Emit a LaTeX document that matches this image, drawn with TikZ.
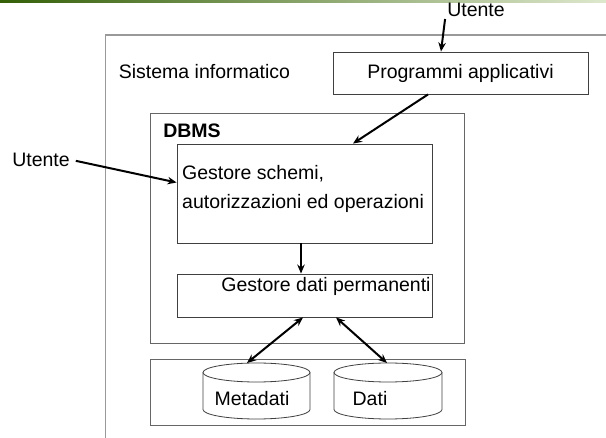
\documentclass[tikz,border=0pt]{standalone}
\usepackage{fontspec}
\setmainfont{Liberation Sans}
\usetikzlibrary{arrows.meta}
\definecolor{bardark}{RGB}{52,96,8}
\definecolor{barlight}{RGB}{222,232,205}
\begin{document}
\begin{tikzpicture}
  [x=1pt, y=-1pt]
  \tikzstyle{txt} = [font=\fontsize{19.5}{29}\selectfont, inner sep=2pt];
  \tikzstyle{box} = [draw=black!75, line width=0.9pt, minimum width=255pt, inner sep=0pt];
  \tikzstyle{frame} = [draw=black!60, line width=0.9pt, inner sep=0pt];
  \tikzstyle{disk} = [draw=black!75, line width=0.8pt];
  \tikzstyle{arr} = [-{Stealth[length=9pt,width=7.5pt]}, line width=2pt];
  \tikzstyle{darr} = [{Stealth[length=9pt,width=7.5pt]}-{Stealth[length=9pt,width=7.5pt]}, line width=2pt];

  \useasboundingbox (0,0) rectangle (606,438);
  \shade[left color=bardark, middle color=bardark!70!white, right color=barlight] (0,0) rectangle (606,3);

  % sistema informatico (cut by the page)
  \begin{scope}
    \clip (0,0) rectangle (606,438);
    \draw[draw=black!40, line width=1.8pt] (105.5,35) rectangle (640,470);
  \end{scope}
  \node[txt] (sis) at (204.5, 72) {Sistema informatico};
  \node[box, txt, inner sep=0pt, minimum height=42pt] (prog) at (460.5, 73) {Programmi applicativi};
  \node[txt] (utA) at (476, 10) {Utente};
  \node[txt] (utB) at (41, 160) {Utente};

  % DBMS
  \node[frame, minimum width=314pt, minimum height=230pt] (dbms) at (307, 228) {};
  \node[txt, font=\fontsize{19.5}{22}\selectfont\bfseries] (dbmstxt) at (192, 131) {DBMS};

  \node[box, minimum height=99pt] (gs) at (304.5, 193.5) {};
  \node[txt, anchor=west, align=left] (gstxt) at (180, 188.5) {Gestore schemi,\\autorizzazioni ed operazioni};

  \node[box, minimum height=43pt] (gd) at (304.5, 295.5) {};
  \node[txt] (gdtxt) at (326, 286) {Gestore dati permanenti};

  % archivi
  \node[frame, minimum width=315pt, minimum height=66pt] (store) at (307.5, 392) {};
  \coordinate (meta) at (256.5, 372.5);
  \coordinate (dati) at (388, 372.5);
  \draw[disk] (meta) ellipse [x radius=53.5pt, y radius=9.5pt];
  \draw[disk] ([xshift=-53.5pt]meta) -- ++(0,37) arc[start angle=180, end angle=360, x radius=53.5pt, y radius=9.5pt] -- ++(0,-37);
  \draw[disk] (dati) ellipse [x radius=54pt, y radius=9.5pt];
  \draw[disk] ([xshift=-54pt]dati) -- ++(0,37) arc[start angle=180, end angle=360, x radius=54pt, y radius=9.5pt] -- ++(0,-37);
  \node[txt] (metatxt) at (252, 399) {Metadati};
  \node[txt] (datitxt) at (370, 399) {Dati};

  \draw[arr] (utA.south west) -- ([xshift=-19.5pt]prog.north);
  \draw[arr] ([xshift=-32.5pt]prog.south) -- ([xshift=48.5pt]gs.north);
  \draw[arr, shorten <=4pt] (utB.east) -- ([yshift=11pt]gs.west);
  \draw[arr] ([xshift=-3.5pt]gs.south) -- ([xshift=-3.5pt]gd.north);
  \draw[darr] ([xshift=-1.5pt]gd.south) -- ([xshift=-9.5pt, yshift=9.5pt]meta);
  \draw[darr] ([xshift=31.5pt]gd.south) -- ([xshift=-1pt, yshift=9.5pt]dati);

\end{tikzpicture}
\end{document}
